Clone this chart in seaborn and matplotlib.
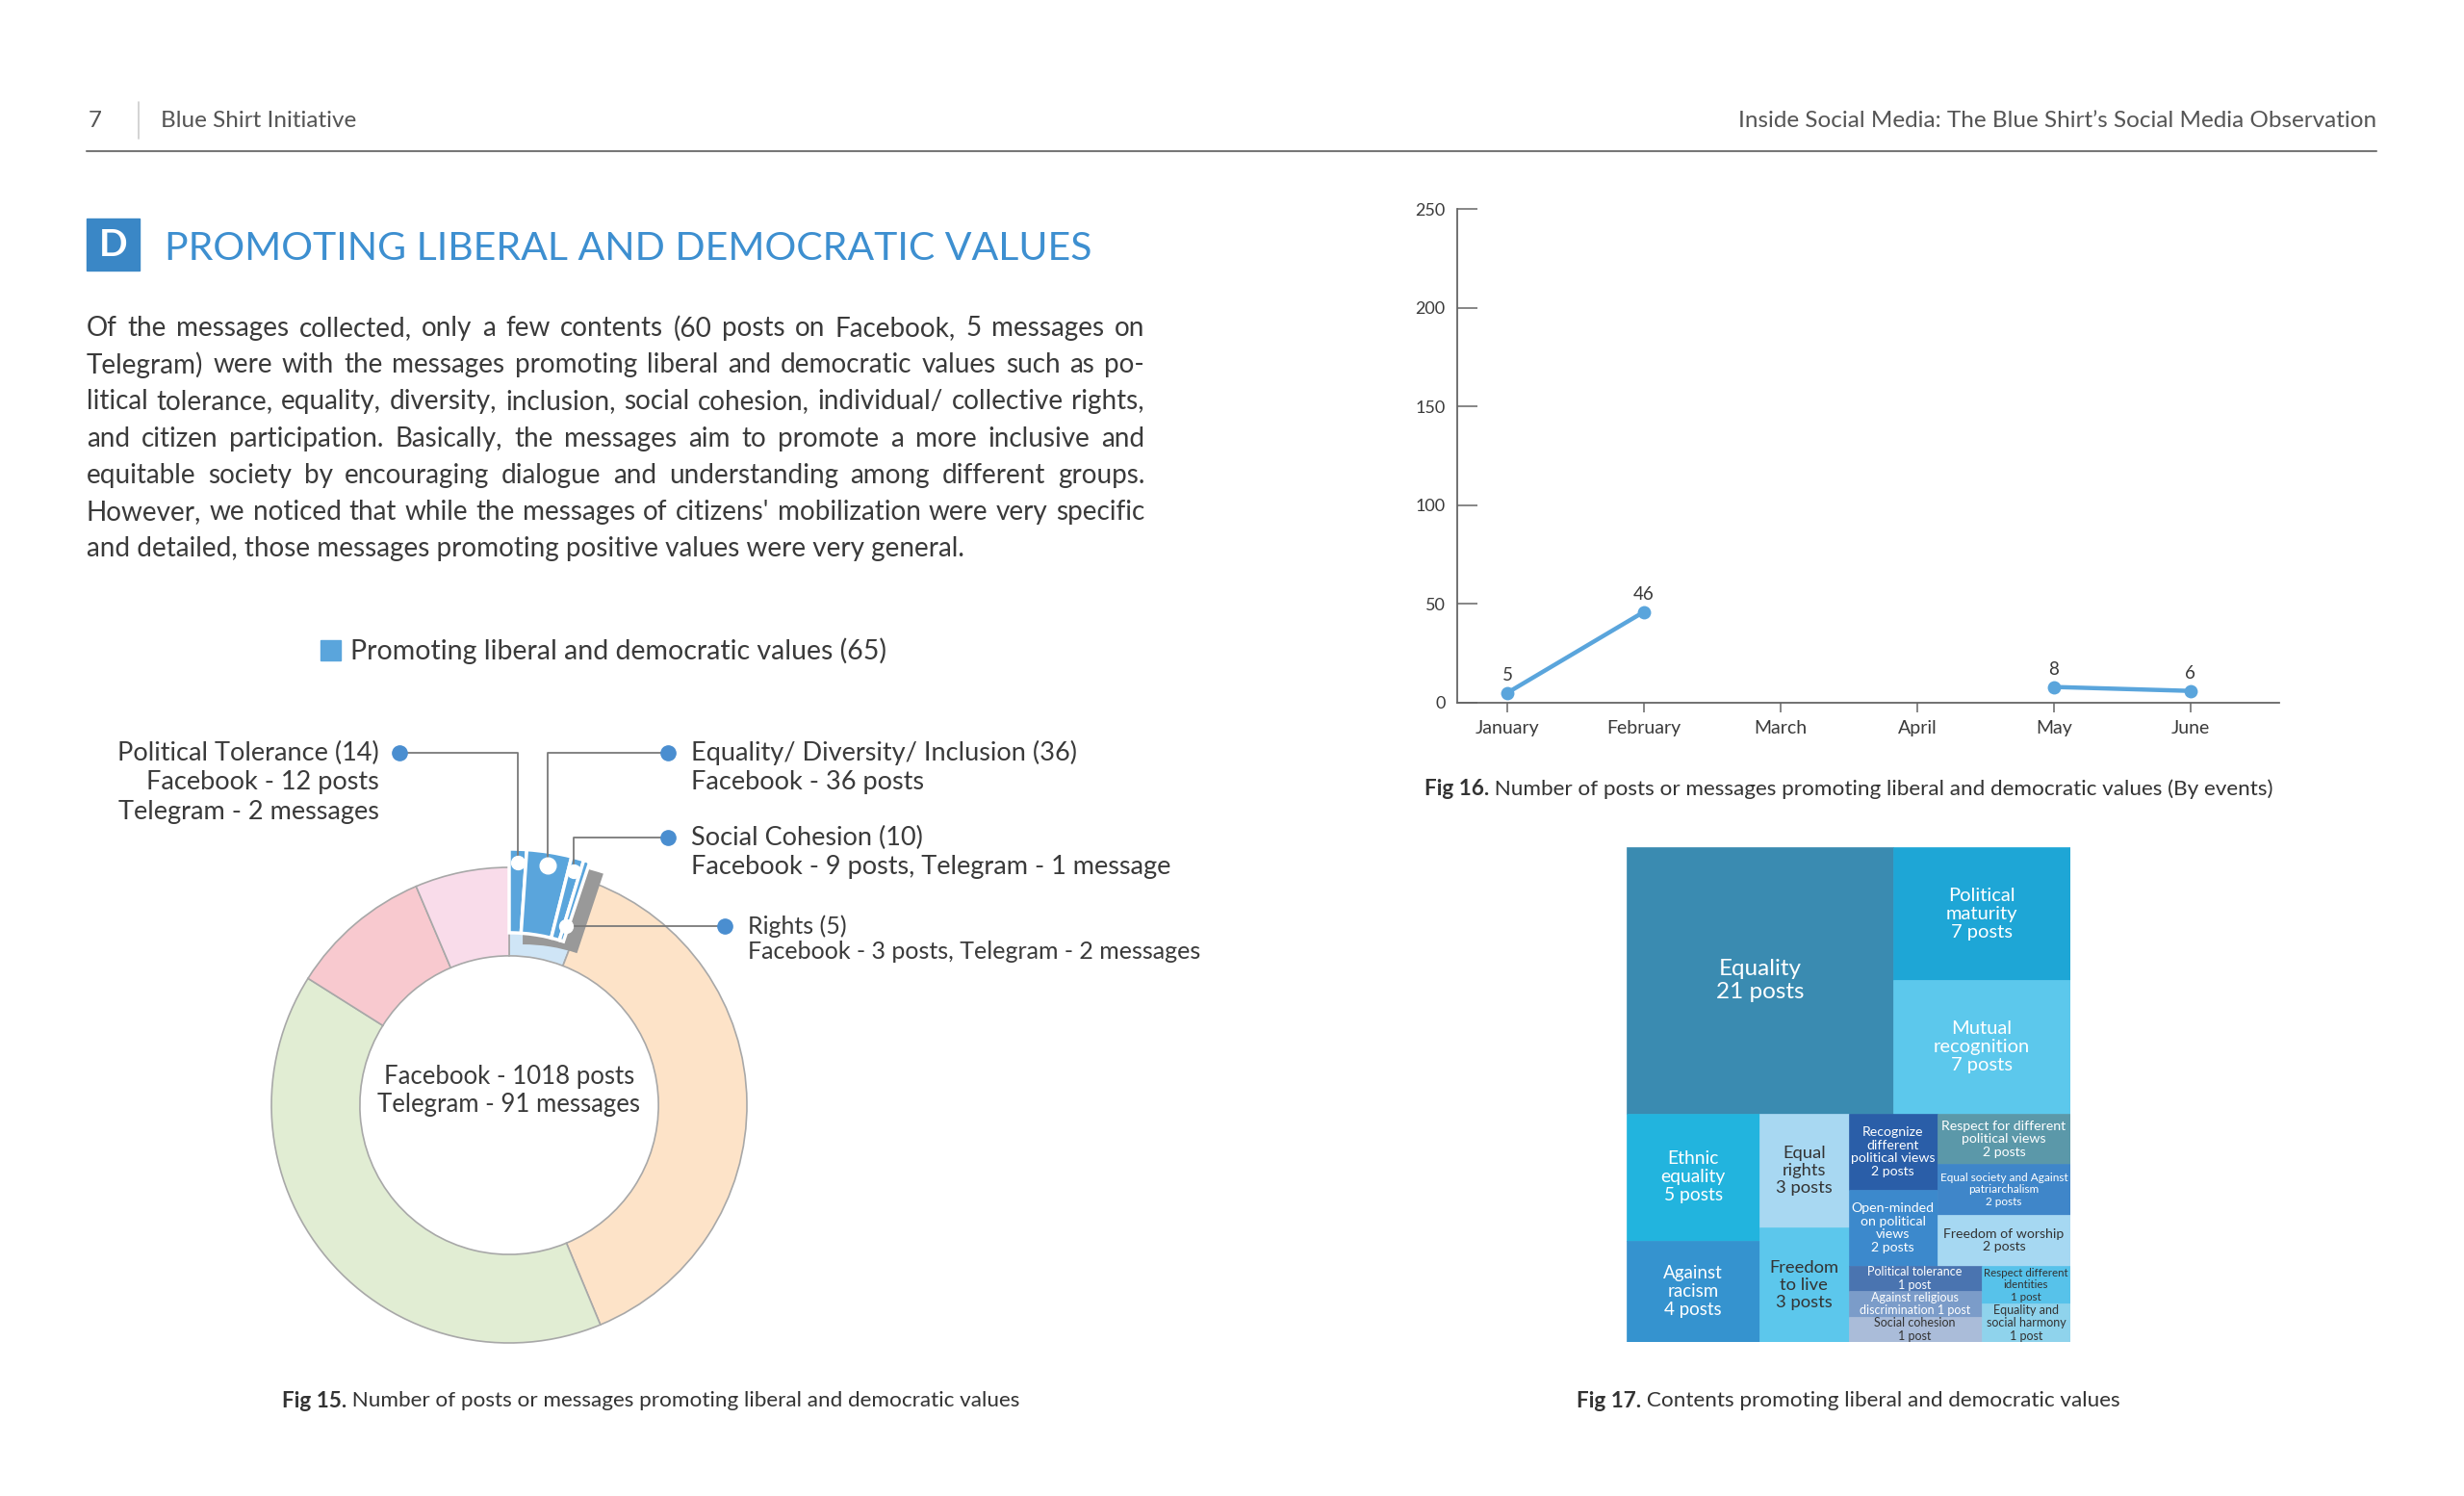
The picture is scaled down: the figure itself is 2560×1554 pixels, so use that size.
import numpy as np
import pandas as pd
import matplotlib
matplotlib.use("Agg")
import matplotlib.pyplot as plt
from matplotlib.patches import Rectangle
import seaborn as sns

W, H = 2560, 1554

# donut: all collected content by theme (Facebook + Telegram)
facebook_total = 1018
telegram_total = 91
theme_names = ["Promoting liberal and democratic values", "Theme 2", "Theme 3", "Theme 4", "Theme 5"]
theme_counts = [65, 420, 446, 107, 71]
theme_colors = ["#cfe5f6", "#fde3c8", "#e1edd3", "#f8c9cf", "#f9dcea"]

# breakdown of the 65 liberal/democratic value posts
value_names = ["Political Tolerance", "Equality/ Diversity/ Inclusion", "Social Cohesion", "Rights"]
value_counts = [14, 36, 10, 5]
value_details = [["Facebook - 12 posts", "Telegram - 2 messages"],
                 ["Facebook - 36 posts"],
                 ["Facebook - 9 posts, Telegram - 1 message"],
                 ["Facebook - 3 posts, Telegram - 2 messages"]]

# line chart by month
months = ["January", "February", "March", "April", "May", "June"]
month_posts = [5, 46, np.nan, np.nan, 8, 6]

# treemap contents
content_text = ["Equality\n21 posts", "Political\nmaturity\n7 posts", "Mutual\nrecognition\n7 posts",
                "Ethnic\nequality\n5 posts", "Against\nracism\n4 posts", "Equal\nrights\n3 posts",
                "Freedom\nto live\n3 posts", "Recognize\ndifferent\npolitical views\n2 posts",
                "Open-minded\non political\nviews\n2 posts", "Respect for different\npolitical views\n2 posts",
                "Equal society and Against\npatriarchalism\n2 posts", "Freedom of worship\n2 posts",
                "Political tolerance\n1 post", "Against religious\ndiscrimination 1 post",
                "Social cohesion\n1 post", "Respect different\nidentities\n1 post",
                "Equality and\nsocial harmony\n1 post"]
content_posts = [21, 7, 7, 5, 4, 3, 3, 2, 2, 2, 2, 2, 1, 1, 1, 1, 1]
# grouping of the cells (slice-and-dice, alternating direction)
content_tree = [[0, [1, 2]],
                [[3, 4], [5, 6], [[[7, 8], [9, 10, 11]], [[12, 13, 14], [15, 16]]]]]
content_colors = ["#3a8bb1", "#1ea6d6", "#5cc8ec", "#22b4de", "#3593cf", "#a8d8f2", "#5cc7ec",
                  "#2a5ea8", "#3c89cc", "#5b98a9", "#3f86c9", "#a6d8f2", "#4a74b0", "#7b9cc9",
                  "#aabcd9", "#57c2ea", "#8fd3ec"]
dark_text = [5, 6, 11, 14, 15, 16]

BLUE = "#5aa5dc"
TEXT = "#3a3a3a"

sns.set_theme(style="white")
plt.rcParams["font.family"] = ["Lato", "DejaVu Sans"]

fig = plt.figure(figsize=(W / 100, H / 100), dpi=100)
fig.patch.set_facecolor("white")
renderer = fig.canvas.get_renderer()


def px_rect(x, y, w, h):
    return [x / W, 1 - (y + h) / H, w / W, h / H]


page = fig.add_axes([0, 0, 1, 1])
page.set_xlim(0, W)
page.set_ylim(H, 0)
page.axis("off")
page.set_zorder(5)


def width_of(t):
    return t.get_window_extent(renderer).width


def fit(t, target):
    t.set_fontsize(t.get_fontsize() * target / width_of(t))


# ---- header ----
page.text(92, 125, "7", fontsize=17.5, color="#555555", va="center")
page.plot([144, 144], [106, 144], color="#cccccc", lw=1.2)
page.text(167, 125, "Blue Shirt Initiative", fontsize=17.5, color="#555555", va="center")
page.text(2469, 125, "Inside Social Media: The Blue Shirt\u2019s Social Media Observation",
          fontsize=17.5, color="#555555", va="center", ha="right")
page.plot([90, 2469], [157, 157], color="#777777", lw=1.5)

page.add_patch(Rectangle((90, 227), 55, 54, color="#3a87c6"))
page.text(117.5, 255, "D", color="white", fontsize=28, fontweight="bold", ha="center", va="center")
title = page.text(171, 258, "PROMOTING LIBERAL AND DEMOCRATIC VALUES", fontsize=30,
                  color="#3d8fd0", va="center")
fit(title, 961)

# ---- body paragraph (justified) ----
body_lines = [
    "Of the messages collected, only a few contents (60 posts on Facebook, 5 messages on",
    "Telegram) were with the messages promoting liberal and democratic values such as po-",
    "litical tolerance, equality, diversity, inclusion, social cohesion, individual/ collective rights,",
    "and citizen participation. Basically, the messages aim to promote a more inclusive and",
    "equitable society by encouraging dialogue and understanding among different groups.",
    "However, we noticed that while the messages of citizens' mobilization were very specific",
    "and detailed, those messages promoting positive values were very general.",
]
body_left, body_right = 90, 1189
probe = [page.text(0, 0, ln, fontsize=18) for ln in body_lines]
body_size = 18 * 0.985 * (body_right - body_left) / max(width_of(t) for t in probe)
for t in probe:
    t.remove()
for i, ln in enumerate(body_lines):
    y = 341 + i * 38.2
    if i == len(body_lines) - 1:
        page.text(body_left, y, ln, fontsize=body_size, color=TEXT, va="center")
        continue
    words = [page.text(0, y, w, fontsize=body_size, color=TEXT, va="center") for w in ln.split()]
    widths = [width_of(t) for t in words]
    gap = (body_right - body_left - sum(widths)) / (len(words) - 1)
    x = body_left
    for t, w in zip(words, widths):
        t.set_x(x)
        x += w + gap

# ---- legend ----
page.add_patch(Rectangle((333, 665), 21, 21, color=BLUE))
page.text(364, 676, f"{theme_names[0]} ({theme_counts[0]})", fontsize=20.5, color=TEXT, va="center")

# ---- donut ----
cx, cy, R = 529, 1148, 247
ax_pie = fig.add_axes(px_rect(cx - 300, cy - 300, 600, 600))
ax_pie.pie(theme_counts, colors=theme_colors, radius=1, startangle=90, counterclock=False,
           wedgeprops=dict(width=0.372, edgecolor="#a8a8a8", linewidth=1.2))

base_span = theme_counts[0] / sum(theme_counts) * 360
sub_span = base_span * 0.87
sub_fracs = [v / sum(value_counts) * sub_span / 360 for v in value_counts]
ax_pie.pie([sum(sub_fracs)], colors=["#999999"], radius=1.077, center=(0.057, -0.049),
           startangle=90, counterclock=False, normalize=False,
           wedgeprops=dict(width=0.352, linewidth=0))
ax_pie.pie(sub_fracs, colors=[BLUE] * len(sub_fracs), radius=1.077, startangle=90,
           counterclock=False, normalize=False,
           wedgeprops=dict(width=0.352, edgecolor="white", linewidth=2.5))
lim = 300 / R
ax_pie.set_xlim(-lim, lim)
ax_pie.set_ylim(-lim, lim)
ax_pie.text(0, 0.06, f"Facebook - {facebook_total} posts\nTelegram - {telegram_total} messages",
            ha="center", va="center", fontsize=18.5, color=TEXT, linespacing=1.2)

# call-outs
callout_xy = [(394, 782), (718, 782), (718, 870), (777, 962)]
callout_anchor_r = [1.02, 1.02, 1.02, 0.79]
callout_size = [19.5, 19.5, 19.5, 18]
cum = np.cumsum([0] + sub_fracs) * 360
for i, name in enumerate(value_names):
    mid = 90 - (cum[i] + cum[i + 1]) / 2
    r = callout_anchor_r[i]
    dx, dy = ax_pie.transData.transform((r * np.cos(np.radians(mid)), r * np.sin(np.radians(mid))))
    ax_x, ax_y = dx, H - dy
    tx, ty = callout_xy[i]
    right = tx < ax_x
    dot_x = tx + 21 if right else tx - 24
    page.plot([dot_x, ax_x, ax_x], [ty, ty, ax_y], color="#7a7a7a", lw=1.3, zorder=1)
    page.plot(dot_x, ty, "o", ms=11, color="#4a8ed0", zorder=3)
    page.plot(ax_x, ax_y, "o", ms=10 if i != 1 else 12, color="white", zorder=3)
    step = 30.5 if callout_size[i] > 19 else 26
    lines = [f"{name} ({value_counts[i]})"] + value_details[i]
    for k, ln in enumerate(lines):
        page.text(tx, ty + k * step, ln, fontsize=callout_size[i], color=TEXT, va="center",
                  ha="right" if right else "left")

# ---- line chart ----
ax_line = fig.add_axes(px_rect(1514, 217, 854, 513))
df = pd.DataFrame({"pos": range(len(months)), "month": months, "posts": month_posts})
df["segment"] = df["posts"].isna().cumsum()
df = df.dropna()
sns.lineplot(data=df, x="pos", y="posts", units="segment", estimator=None, color=BLUE,
             marker="o", markersize=10, markeredgewidth=0, linewidth=3.2, ax=ax_line)
for _, row in df.iterrows():
    ax_line.annotate(f"{int(row.posts)}", (row.pos, row.posts), textcoords="offset points",
                     xytext=(0, 7), ha="center", va="bottom", fontsize=13.5, color=TEXT)
ax_line.set_xlim(-0.366, 5.65)
ax_line.set_ylim(0, 250)
ax_line.set_yticks(range(0, 251, 50))
ax_line.set_xticks(range(len(months)))
ax_line.set_xticklabels(months)
ax_line.set_xlabel("")
ax_line.set_ylabel("")
sns.despine(ax=ax_line)
for s in ["left", "bottom"]:
    ax_line.spines[s].set_color("#666666")
    ax_line.spines[s].set_linewidth(1.3)
ax_line.tick_params(axis="y", left=True, direction="in", length=15, width=1.1, color="#666666",
                    labelsize=13, labelcolor=TEXT, pad=9)
ax_line.tick_params(axis="x", bottom=True, direction="out", length=7, width=1.1, color="#666666",
                    labelsize=14, labelcolor=TEXT, pad=6)
ax_line.set_facecolor("none")

# ---- treemap ----
tree_px = (1690, 880, 461, 514)
ax_tree = fig.add_axes(px_rect(*tree_px))
ax_tree.set_xlim(0, 1)
ax_tree.set_ylim(1, 0)
ax_tree.axis("off")


def tree_value(node):
    return content_posts[node] if isinstance(node, int) else sum(tree_value(c) for c in node)


def slice_dice(node, x, y, w, h, vertical, out):
    if isinstance(node, int):
        out[node] = (x, y, w, h)
        return
    total = tree_value(node)
    for child in node:
        f = tree_value(child) / total
        if vertical:
            slice_dice(child, x, y, w, h * f, False, out)
            y += h * f
        else:
            slice_dice(child, x, y, w * f, h, True, out)
            x += w * f


cells = {}
slice_dice(content_tree, 0, 0, 1, 1, True, cells)
for i, (x, y, w, h) in cells.items():
    ax_tree.add_patch(Rectangle((x, y), w, h, facecolor=content_colors[i], edgecolor=content_colors[i], lw=0.5))
    fs = np.interp(content_posts[i], [1, 2, 3, 7, 21], [9, 10.2, 13.2, 14.5, 17.5])
    t = ax_tree.text(x + w / 2, y + h / 2, content_text[i], ha="center", va="center", fontsize=fs,
                     color="#333333" if i in dark_text else "white", linespacing=1.15)
    room = w * tree_px[2] * 0.95
    if width_of(t) > room:
        fit(t, room)

# ---- captions ----
def caption(x, y, bold, rest, center=False):
    a = page.text(x, y, bold, fontsize=16.2, fontweight="bold", color="#333333", va="center")
    b = page.text(x, y, " " + rest, fontsize=16.2, color="#333333", va="center")
    wa, wb = width_of(a), width_of(b)
    x0 = x - (wa + wb) / 2 if center else x
    a.set_x(x0)
    b.set_x(x0 + wa)


caption(676, 1455, "Fig 15.", "Number of posts or messages promoting liberal and democratic values", center=True)
caption(1480, 820, "Fig 16.", "Number of posts or messages promoting liberal and democratic values (By events)")
caption(1920, 1455, "Fig 17.", "Contents promoting liberal and democratic values", center=True)

fig.savefig("out.png", dpi=100, facecolor="white")
